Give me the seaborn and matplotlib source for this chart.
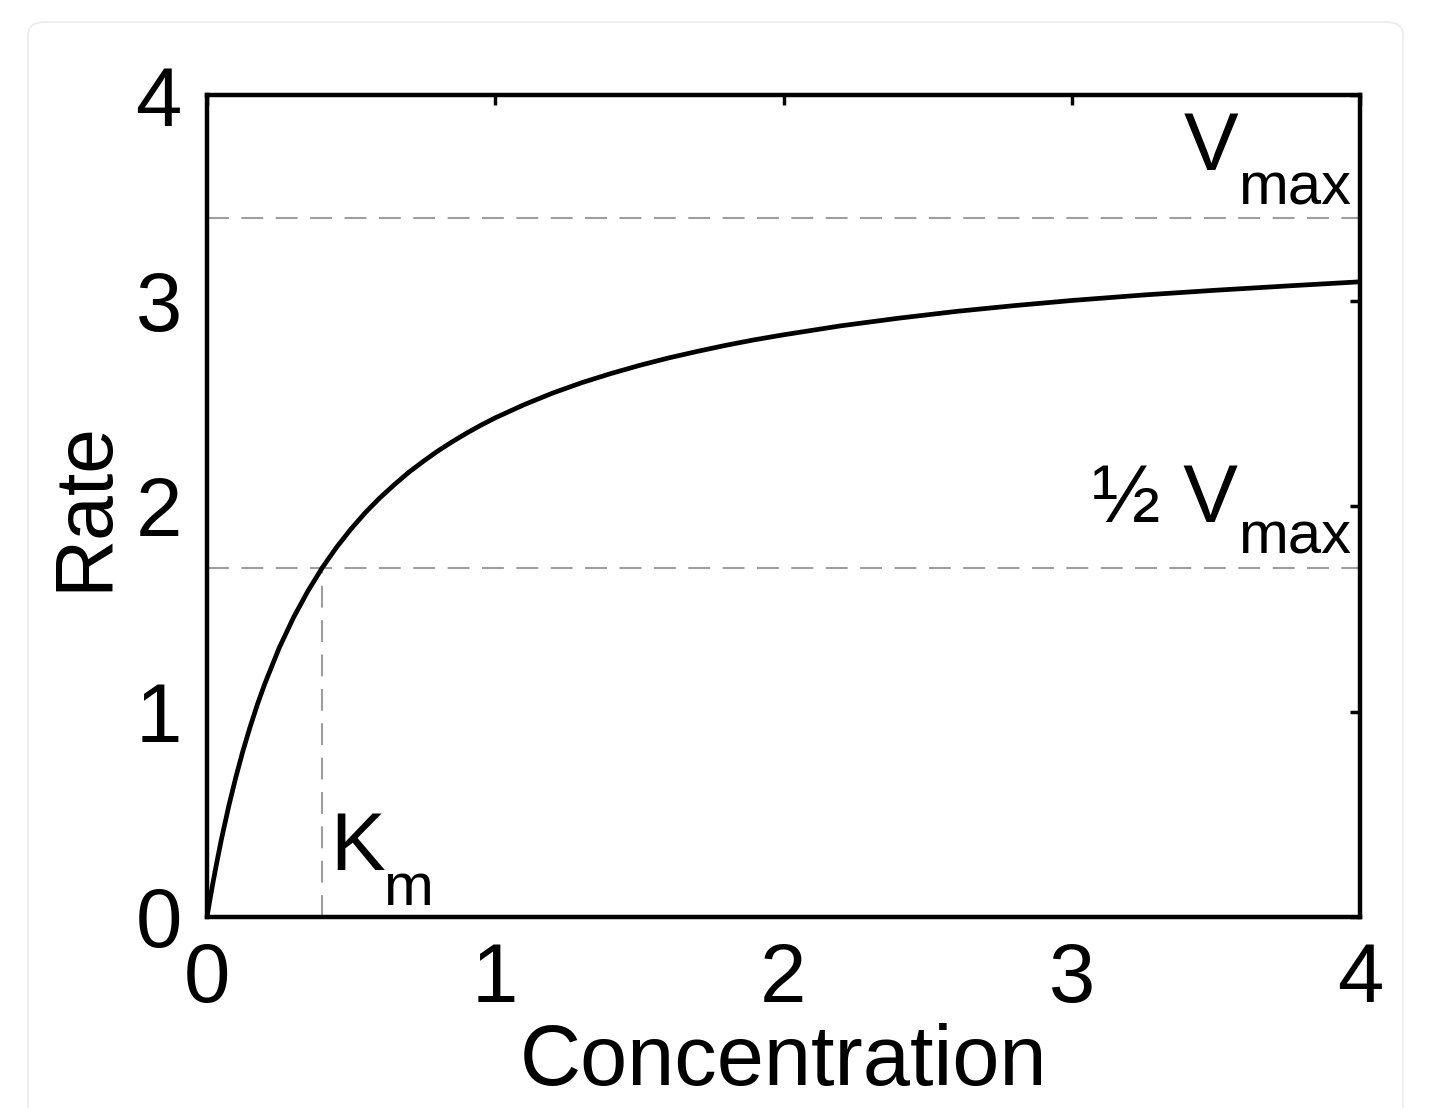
import matplotlib
matplotlib.use("Agg")
import matplotlib.pyplot as plt
from matplotlib.patches import FancyBboxPatch
import seaborn as sns
import pandas as pd

# ---- data ----
concentration = [0.0, 0.01, 0.02, 0.035, 0.05, 0.075, 0.1, 0.125, 0.15, 0.175, 0.2,
                 0.25, 0.3, 0.35, 0.4, 0.45, 0.5, 0.55, 0.6, 0.65, 0.7, 0.75, 0.8,
                 0.85, 0.9, 0.95, 1.0, 1.1, 1.2, 1.3, 1.4, 1.5, 1.6, 1.7, 1.8, 1.9,
                 2.0, 2.2, 2.4, 2.6, 2.8, 3.0, 3.25, 3.5, 3.75, 4.0]
rate = [0.0, 0.083, 0.162, 0.273, 0.378, 0.537, 0.680, 0.810, 0.927, 1.035, 1.133,
        1.308, 1.457, 1.586, 1.700, 1.800, 1.889, 1.969, 2.040, 2.104, 2.164, 2.217,
        2.267, 2.312, 2.354, 2.393, 2.429, 2.493, 2.550, 2.600, 2.644, 2.684, 2.720,
        2.752, 2.782, 2.809, 2.833, 2.877, 2.914, 2.947, 2.975, 3.000, 3.027, 3.050,
        3.071, 3.091]
vmax = 3.4
half_vmax = 1.7
km = 0.4
x_ticks = [0, 1, 2, 3, 4]
y_ticks = [0, 1, 2, 3, 4]
x_label = "Concentration"
y_label = "Rate"

sns.set_theme(style="white")
plt.rcParams["font.family"] = ["Liberation Sans", "DejaVu Sans"]

fig = plt.figure(figsize=(14.4, 11.08), dpi=100)
W, H = 1440, 1108

# light rounded frame behind the chart
frame = FancyBboxPatch((28 / W, -0.05), (1403 - 28) / W, (H - 22) / H + 0.05,
                       boxstyle="round,pad=0,rounding_size=0.012",
                       transform=fig.transFigure, facecolor="none",
                       edgecolor="#ebebeb", linewidth=1.2, zorder=-5)
fig.patches.append(frame)

ax = fig.add_axes([207 / W, (H - 917) / H, (1360 - 207) / W, (917 - 95) / H])
ax.set_facecolor("none")
ax.set_zorder(2)

df = pd.DataFrame({"Concentration": concentration, "Rate": rate})

dash_kw = dict(color="#9e9e9e", linewidth=1.5, dashes=(10.5, 6.0), zorder=2)
ax.axhline(vmax, **dash_kw)
ax.axhline(half_vmax, **dash_kw)
ax.plot([km, km], [0, half_vmax], **dash_kw)

sns.lineplot(data=df, x="Concentration", y="Rate", ax=ax, color="black",
             linewidth=3.4, zorder=3)

ax.set_xlim(0, 4)
ax.set_ylim(0, 4)
ax.set_xticks(x_ticks)
ax.set_yticks(y_ticks)
ax.set_xticklabels([str(t) for t in x_ticks])
ax.set_yticklabels([str(t) for t in y_ticks])

for s in ax.spines.values():
    s.set_visible(True)
    s.set_color("black")
    s.set_linewidth(3.2)

ax.tick_params(axis="both", which="major", direction="in", top=True, right=True,
               length=7, width=2.5, color="black", labelsize=60, labelcolor="black")
ax.tick_params(axis="x", pad=17)
ax.tick_params(axis="y", pad=18)

ax.set_xlabel(x_label, fontsize=61, labelpad=3, color="black")
ax.set_ylabel(y_label, fontsize=58, labelpad=9, color="black")

big = 59
sub = 43
ax.text(3.577, 3.635, "V", fontsize=big, ha="right", va="baseline", color="black")
ax.text(3.97, 3.465, "max", fontsize=sub, ha="right", va="baseline", color="black")
ax.text(3.577, 1.922, "½ V", fontsize=big, ha="right", va="baseline", color="black")
ax.text(3.97, 1.771, "max", fontsize=sub, ha="right", va="baseline", color="black")
ax.text(0.427, 0.229, "K", fontsize=big, ha="left", va="baseline", color="black")
ax.text(0.611, 0.058, "m", fontsize=sub, ha="left", va="baseline", color="black")

fig.savefig("out.png", dpi=100, facecolor="white")
